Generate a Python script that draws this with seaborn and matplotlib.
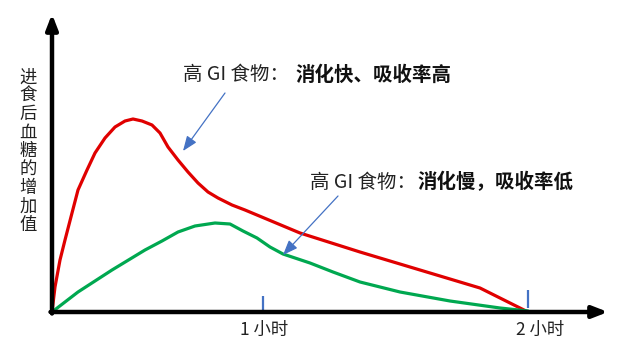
import matplotlib
matplotlib.use("Agg")
import matplotlib.pyplot as plt
import seaborn as sns
import pandas as pd

sns.set_style("white")
plt.rcParams['font.family'] = ['Noto Sans CJK SC', 'DejaVu Sans']

# Time axis (arbitrary units, origin = meal) and rise in blood glucose (arbitrary units)
red_x = [0, 3, 8, 13, 20, 26, 35, 43, 53, 63, 73, 81, 90, 100, 108, 116, 126, 136, 146, 156,
         166, 180, 193, 248, 308, 368, 428, 476]
red_y = [0, 25, 52, 72, 99, 122, 142, 159, 174, 185, 191, 193, 191, 187, 179, 165, 152, 140,
         129, 120, 114, 107, 102, 79, 60, 42, 24, 0]
green_x = [0, 26, 60, 93, 110, 126, 143, 163, 178, 191, 205, 218, 231, 258, 281, 308, 348,
           398, 448, 476]
green_y = [0, 20, 42, 62, 71, 80, 86, 89, 88, 81, 74, 65, 58, 49, 40, 30, 20, 11, 4, 1]

tick_pos = [211, 476]
tick_labels = ["1 小时", "2 小时"]
y_label = "进食后血糖的增加值"
note_high_a = "高 GI 食物："
note_high_b = "消化快、吸收率高"
note_low_a = "高 GI 食物："
note_low_b = "消化慢，吸收率低"

W, H = 640, 364
fig = plt.figure(figsize=(W / 100, H / 100), dpi=100)
ax = fig.add_axes([52 / W, 52 / H, 560 / W, 302 / H])
ax.set_xlim(0, 560)
ax.set_ylim(0, 302)
ax.axis('off')

df = pd.concat([
    pd.DataFrame({'t': red_x, 'v': red_y, 's': 'high'}),
    pd.DataFrame({'t': green_x, 'v': green_y, 's': 'low'}),
])
sns.lineplot(data=df, x='t', y='v', hue='s', palette={'high': '#E00000', 'low': '#00A850'},
             sort=False, estimator=None, linewidth=2.3, legend=False, ax=ax)
for line in ax.get_lines():
    line.set_solid_joinstyle('round')
    line.set_solid_capstyle('round')

# axes with arrows
ax.annotate('', xy=(556, 0), xytext=(-1.5, 0),
            arrowprops=dict(arrowstyle='-|>,head_width=0.35,head_length=0.9', lw=3.2,
                            color='black', shrinkA=0, shrinkB=0), annotation_clip=False)
ax.annotate('', xy=(0, 298), xytext=(0, -1.5),
            arrowprops=dict(arrowstyle='-|>,head_width=0.35,head_length=0.9', lw=3.2,
                            color='black', shrinkA=0, shrinkB=0), annotation_clip=False)

# blue tick marks
for p, lo, hi in zip(tick_pos, [2, 4], [16, 22]):
    ax.plot([p, p], [lo, hi], color='#4472C4', lw=1.6, solid_capstyle='butt')


def fx(x):
    return x / W


def fy(y):
    return 1 - y / H


fig.text(fx(264), fy(330), tick_labels[0], ha='center', va='center', fontsize=12.5, color='#222222')
fig.text(fx(540), fy(330), tick_labels[1], ha='center', va='center', fontsize=12.5, color='#222222')

fig.text(fx(28), fy(151), "\n".join(y_label), ha='center', va='center', fontsize=12.5,
         linespacing=1.03, color='#222222')

fig.text(fx(183), fy(75), note_high_a, ha='left', va='center', fontsize=14, color='#222222')
fig.text(fx(296), fy(75), note_high_b, ha='left', va='center', fontsize=14,
         fontweight='bold', color='#111111')
fig.text(fx(310), fy(182), note_low_a, ha='left', va='center', fontsize=14, color='#222222')
fig.text(fx(418), fy(182), note_low_b, ha='left', va='center', fontsize=14,
         fontweight='bold', color='#111111')

arrow_kw = dict(arrowstyle='-|>,head_width=0.35,head_length=0.9', color='#4472C4', lw=0.9,
                shrinkA=0, shrinkB=0)
ax.annotate('', xy=(183 - 52, 312 - 151), xytext=(225 - 52, 312 - 93), arrowprops=arrow_kw)
ax.annotate('', xy=(283 - 52, 312 - 255), xytext=(338 - 52, 312 - 196), arrowprops=arrow_kw)

fig.savefig('out.png', dpi=100, facecolor='white')
